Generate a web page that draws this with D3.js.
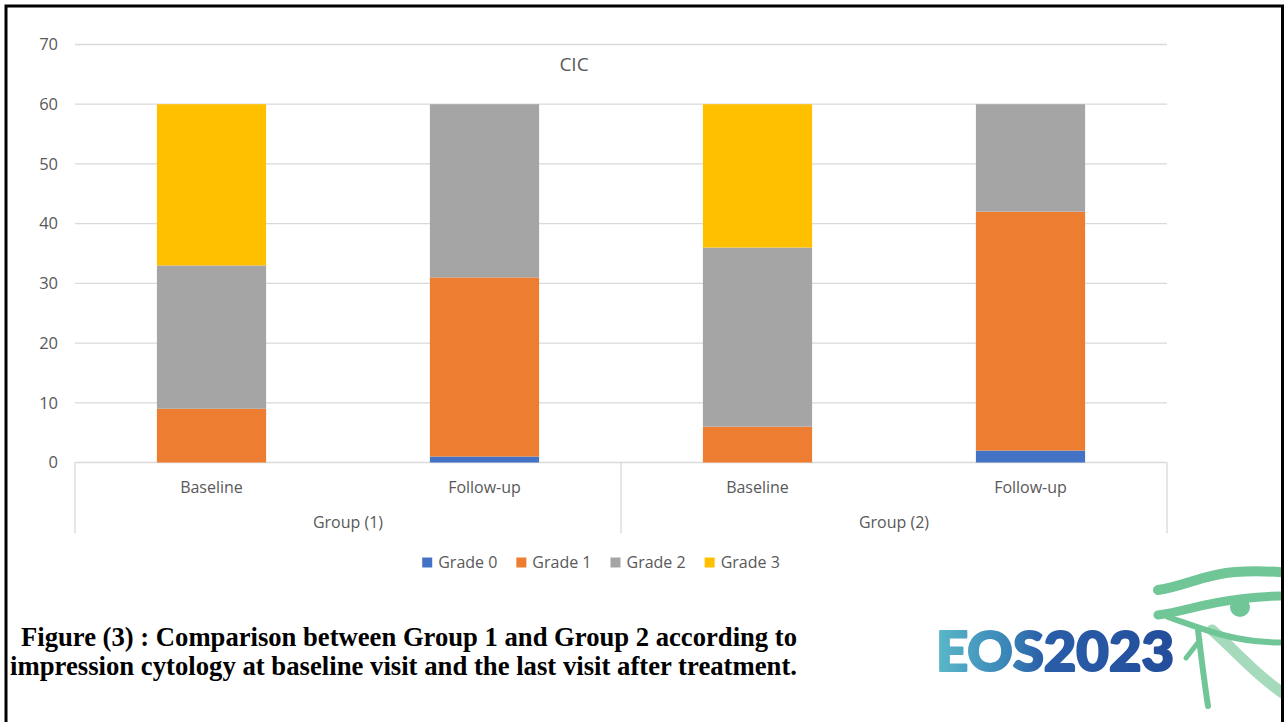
<!DOCTYPE html>
<html>
<head>
<meta charset="utf-8">
<script src="https://cdn.jsdelivr.net/npm/d3@7"></script>
<style>
  html, body { margin: 0; padding: 0; background: #fff; }
  svg { display: block; }
</style>
</head>
<body>
<svg id="fig" width="1287" height="722"></svg>
<script>
// Impression cytology (CIC) grades per visit and group
const categories = ["Baseline", "Follow-up", "Baseline", "Follow-up"];
const groups = ["Group (1)", "Group (2)"];
const seriesNames = ["Grade 0", "Grade 1", "Grade 2", "Grade 3"];
const grade0 = [0, 1, 0, 2];
const grade1 = [9, 30, 6, 40];
const grade2 = [24, 29, 30, 18];
const grade3 = [27, 0, 24, 0];
const yTicks = [0, 10, 20, 30, 40, 50, 60, 70];
const chartTitle = "CIC";
const captionLines = [
  "Figure (3) : Comparison between Group 1 and Group 2 according to",
  "impression cytology at baseline visit and the last visit after treatment."
];
const logoText = ["EOS", "2023"];

const colors = ["#4472c4", "#ed7d31", "#a5a5a5", "#ffc000"];
const textColor = "#595959";
const gridColor = "#d9d9d9";
const font = "'Open Sans', sans-serif";

const svg = d3.select("#fig");

const rows = categories.map((c, i) => ({
  idx: i,
  "Grade 0": grade0[i], "Grade 1": grade1[i], "Grade 2": grade2[i], "Grade 3": grade3[i]
}));
const stacked = d3.stack().keys(seriesNames)(rows);

const x = d3.scaleBand().domain(d3.range(categories.length))
  .range([75, 1167]).paddingInner(0.6).paddingOuter(0.3);
const y = d3.scaleLinear().domain([0, 70]).range([462.5, 44.5]);

// gridlines
svg.append("g").selectAll("line").data(yTicks).join("line")
  .attr("x1", 75).attr("x2", 1167)
  .attr("y1", d => y(d)).attr("y2", d => y(d))
  .attr("stroke", gridColor).attr("stroke-width", 1.3);

// y tick labels
svg.append("g").selectAll("text").data(yTicks).join("text")
  .attr("x", 58).attr("y", d => y(d)).attr("dy", "0.35em")
  .attr("text-anchor", "end")
  .attr("font-family", font).attr("font-size", 16.5).attr("fill", textColor)
  .text(d => d);

// stacked bars
svg.append("g").selectAll("g").data(stacked).join("g")
  .attr("fill", (d, i) => colors[i])
  .selectAll("rect").data(d => d).join("rect")
  .attr("x", d => x(d.data.idx))
  .attr("width", x.bandwidth())
  .attr("y", d => y(d[1]))
  .attr("height", d => y(d[0]) - y(d[1]));

// category axis: group separators
const step = x.step();
const sepX = [75, 75 + 2 * step, 1167];
svg.append("g").selectAll("line").data(sepX).join("line")
  .attr("x1", d => d).attr("x2", d => d)
  .attr("y1", y(0)).attr("y2", 533)
  .attr("stroke", gridColor).attr("stroke-width", 1.3);

svg.append("g").selectAll("text").data(categories).join("text")
  .attr("x", (d, i) => x(i) + x.bandwidth() / 2).attr("y", 493)
  .attr("text-anchor", "middle")
  .attr("font-family", font).attr("font-size", 16).attr("fill", textColor)
  .text(d => d);

svg.append("g").selectAll("text").data(groups).join("text")
  .attr("x", (d, i) => 75 + step * (2 * i + 1)).attr("y", 528)
  .attr("text-anchor", "middle")
  .attr("font-family", font).attr("font-size", 16).attr("fill", textColor)
  .text(d => d);

// chart title
svg.append("text")
  .attr("x", 574).attr("y", 71).attr("text-anchor", "middle")
  .attr("font-family", font).attr("font-size", 19).attr("fill", textColor)
  .text(chartTitle);

// legend
const legend = svg.append("g");
const items = legend.selectAll("g").data(seriesNames).join("g");
items.append("rect").attr("width", 10).attr("height", 10).attr("y", -5)
  .attr("fill", (d, i) => colors[i]);
items.append("text").attr("x", 16).attr("dy", "0.35em")
  .attr("font-family", font).attr("font-size", 16).attr("fill", textColor)
  .text(d => d);
let cursor = 0;
const offsets = [];
items.each(function () {
  offsets.push(cursor);
  cursor += 16 + this.querySelector("text").getComputedTextLength() + 19;
});
const total = cursor - 19;
const legendLeft = 601 - total / 2;
items.attr("transform", (d, i) => `translate(${legendLeft + offsets[i]},562.5)`);

// caption (bold serif, horizontally condensed to fit)
const capX = [21, 10];
const capY = [646, 675];
svg.append("g").selectAll("text").data(captionLines).join("text")
  .attr("x", (d, i) => capX[i]).attr("y", (d, i) => capY[i])
  .attr("font-family", "'Liberation Serif', 'Times New Roman', serif")
  .attr("font-weight", "bold").attr("font-size", 27.5).attr("fill", "#000")
  .attr("textLength", (d, i) => 797 - capX[i])
  .attr("lengthAdjust", "spacingAndGlyphs")
  .text(d => d);

// logo
const defs = svg.append("defs");
const grad = defs.append("linearGradient").attr("id", "logoGrad")
  .attr("x1", "0").attr("x2", "1").attr("y1", "0").attr("y2", "0");
grad.append("stop").attr("offset", "0").attr("stop-color", "#5bb8c9");
grad.append("stop").attr("offset", "0.3").attr("stop-color", "#3a86b8");
grad.append("stop").attr("offset", "0.45").attr("stop-color", "#2a5ea8");
grad.append("stop").attr("offset", "1").attr("stop-color", "#234d9b");
defs.append("clipPath").attr("id", "eyeClip")
  .append("rect").attr("x", 1100).attr("y", 540).attr("width", 182).attr("height", 182);

const logo = svg.append("g");
const eye = logo.append("g").attr("clip-path", "url(#eyeClip)")
  .attr("fill", "none").attr("stroke", "#62c08d").attr("stroke-linecap", "round")
  .attr("opacity", 0.9);
// spiral tail
eye.append("path").attr("d", "M1212,630 C1235,650 1255,675 1290,698")
  .attr("stroke-width", 11).attr("stroke", "#9dd6b6");
// brow
eye.append("path").attr("d", "M1158,590 C1185,586 1205,574 1235,572 S1275,572 1290,573")
  .attr("stroke-width", 10);
// upper lid
eye.append("path").attr("d", "M1158,615 C1185,611 1205,603 1240,599 S1280,596 1290,596")
  .attr("stroke-width", 9);
// pupil
eye.append("circle").attr("cx", 1240).attr("cy", 607).attr("r", 10)
  .attr("fill", "#62c08d").attr("stroke", "none");
// lower lid
eye.append("path").attr("d", "M1168,617 C1200,628 1225,638 1255,641 S1280,642 1290,642")
  .attr("stroke-width", 6);
// tear line
eye.append("path").attr("d", "M1198,630 C1201,655 1204,680 1208,706")
  .attr("stroke-width", 6);
eye.append("path").attr("d", "M1186,658 L1200,640")
  .attr("stroke-width", 5);

logo.append("text")
  .attr("x", 936).attr("y", 671)
  .attr("font-family", "Lato, 'Noto Sans', sans-serif").attr("font-weight", 900)
  .attr("font-size", 55).attr("fill", "url(#logoGrad)")
  .attr("stroke", "url(#logoGrad)").attr("stroke-width", 2.2).attr("stroke-linejoin", "round")
  .attr("textLength", 238).attr("lengthAdjust", "spacingAndGlyphs")
  .text(logoText.join(""));

// frame
svg.append("path")
  .attr("d", "M6,730 L6,6 L1282.5,6 L1282.5,730")
  .attr("fill", "none").attr("stroke", "#000").attr("stroke-width", 3);
</script>
</body>
</html>
